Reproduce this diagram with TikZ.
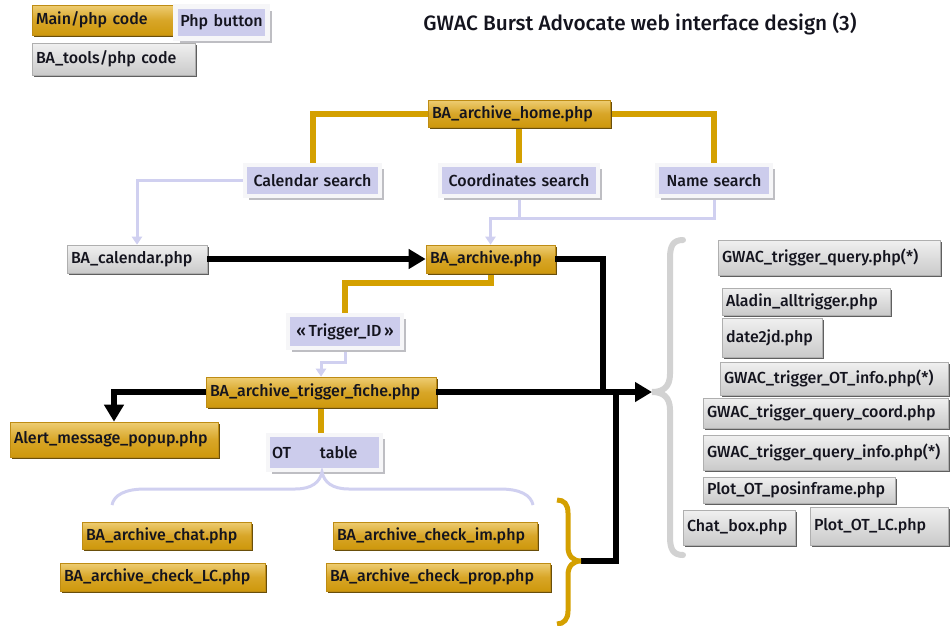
\documentclass[tikz,border=0pt]{standalone}
\usepackage{fontspec}
\setmainfont{Fira Sans}[UprightFont={* Medium}]
\usetikzlibrary{arrows.meta,shadows}
\definecolor{txt}{RGB}{20,20,30}
\definecolor{goldline}{RGB}{212,160,0}
\definecolor{goldtop}{RGB}{238,205,115}
\definecolor{goldmid}{RGB}{216,166,40}
\definecolor{goldbot}{RGB}{206,152,12}
\definecolor{goldedge}{RGB}{190,140,20}
\definecolor{goldshadow}{RGB}{105,78,10}
\definecolor{greytop}{RGB}{240,240,240}
\definecolor{greybot}{RGB}{202,202,202}
\definecolor{greyedge}{RGB}{175,175,175}
\definecolor{greyshadow}{RGB}{95,95,95}
\definecolor{lav}{RGB}{204,204,236}
\definecolor{lavline}{RGB}{208,208,240}
\definecolor{frame}{RGB}{246,246,248}
\definecolor{frameshadow}{RGB}{190,190,195}
\definecolor{bracegrey}{RGB}{210,210,210}
\pgfdeclarelayer{bg}
\pgfsetlayers{bg,main}
\tikzset{
  wh/.code 2 args={\pgfmathsetmacro\boxtw{#1-8}\edef\boxtmp{\noexpand\tikzset{text width=\boxtw pt, minimum width=#1pt, minimum height=#2pt}}\boxtmp},
  basebox/.style={inner xsep=4pt, inner ysep=0pt, text=txt, font=\fontsize{16}{18}\selectfont, align=left},
  goldbox/.style={basebox, top color=goldtop, bottom color=goldbot, middle color=goldmid, draw=goldedge, line width=0.6pt,
    drop shadow={shadow xshift=2pt, shadow yshift=-2pt, fill=goldshadow, opacity=1}},
  greybox/.style={basebox, top color=greytop, bottom color=greybot, draw=greyedge, line width=0.6pt,
    drop shadow={shadow xshift=2pt, shadow yshift=-2pt, fill=greyshadow, opacity=1}},
  btn/.style={basebox, fill=lav, draw=frame, line width=4.5pt,
    drop shadow={shadow xshift=4pt, shadow yshift=-4pt, fill=frameshadow, opacity=1}},
  goldconn/.style={draw=goldline, line width=6pt},
  lavconn/.style={draw=lavline, line width=3pt},
  lavarrow/.style={-{Triangle[length=8pt,width=10pt]}},
  blackconn/.style={draw=black, line width=6pt},
  bigarrow/.style={-{Triangle[length=17pt,width=19pt]}},
}
\begin{document}
\begin{tikzpicture}[x=1pt,y=-1pt]
\useasboundingbox (0,0) rectangle (950,625);

% legend
\node[goldbox, wh={141}{30}] (legmain) at (102.5,20) {Main/php~code};
\node[btn, wh={92}{32}, align=center] (legbtn) at (221.5,22.5) {Php~button};
\node[greybox, wh={163}{32}] (legtools) at (113.5,59) {BA\_tools/php~code};

% title
\node[text=txt, font=\fontsize{20.8}{24}\selectfont, inner sep=0pt] (title) at (640,24) {GWAC Burst Advocate web interface design (3)};

% top part
\node[goldbox, wh={182}{27}] (home) at (519,113.5) {BA\_archive\_home.php};
\node[btn, wh={135}{31}, align=center] (cal) at (312.5,180.5) {Calendar~search};
\node[btn, wh={158}{31}, align=center] (coord) at (519,180.5) {Coordinates~search};
\node[btn, wh={114}{31}, align=center] (name) at (714,180.5) {Name~search};

\node[greybox, wh={140}{28}] (calphp) at (137,259) {BA\_calendar.php};
\node[goldbox, wh={129}{28}] (archive) at (490.5,259) {BA\_archive.php};
\node[btn, wh={114}{33}, align=center] (trig) at (345,331.5) {«\,Trigger\_ID\,»};
\node[goldbox, wh={230}{30}] (fiche) at (321,392) {BA\_archive\_trigger\_fiche.php};
\node[goldbox, wh={208}{35}, inner xsep=2pt] (alert) at (114,439.5) {Alert\_message\_popup.php};
\node[btn, wh={113}{35}] (ot) at (324.5,452.5) {OT\hspace{29pt}table};

\node[goldbox, wh={169}{27}] (chat) at (166.5,535.5) {BA\_archive\_chat.php};
\node[goldbox, wh={205}{28}] (checklc) at (162.5,577) {BA\_archive\_check\_LC.php};
\node[goldbox, wh={204}{27}] (checkim) at (435,535.5) {BA\_archive\_check\_im.php};
\node[goldbox, wh={224}{28}] (checkprop) at (438,577) {BA\_archive\_check\_prop.php};

% right column (BA tools)
\node[greybox, wh={222}{35}] (gq) at (829,257.5) {GWAC\_trigger\_query.php(*)};
\node[greybox, wh={168}{27}] (aladin) at (806,301.5) {Aladin\_alltrigger.php};
\node[greybox, wh={100}{39}] (date) at (772,337.5) {date2jd.php};
\node[greybox, wh={228}{33}] (otinfo) at (834,378.5) {GWAC\_trigger\_OT\_info.php(*)};
\node[greybox, wh={245}{30}] (qcoord) at (825.5,413) {GWAC\_trigger\_query\_coord.php};
\node[greybox, wh={245}{35}] (qinfo) at (825.5,452.5) {GWAC\_trigger\_query\_info.php(*)};
\node[greybox, wh={192}{26}] (posin) at (799,490) {Plot\_OT\_posinframe.php};
\node[greybox, wh={112}{35}] (chatbox) at (739,527.5) {Chat\_box.php};
\node[greybox, wh={138}{38}] (plotlc) at (879,526) {Plot\_OT\_LC.php};

% brace tips and junctions
\coordinate (gtip) at (652,392);
\coordinate (otip) at (581,561);
\coordinate (ltip) at (322,472);
\coordinate (jA) at (603,392);
\coordinate (jB) at (616,392);

\begin{pgfonlayer}{bg}
% gold connectors
\draw[goldconn] (home.west) -| (cal.north);
\draw[goldconn] (home.south) -- (coord.north);
\draw[goldconn] (home.east) -| (name.north);
\draw[goldconn] (archive.south) -- (archive.south |- 0,283) -| (trig.north);
\draw[goldconn] (fiche.south) -- (fiche.south |- ot.north);
% lavender connectors
\draw[lavconn, lavarrow] (cal.west) -| (calphp.north);
\draw[lavconn] (coord.south) -- (coord.south |- 0,218);
\draw[lavconn, lavarrow] (name.south) |- (archive.north |- 0,218) -- (archive.north);
\draw[lavconn, lavarrow] (trig.south) -- (trig.south |- 0,362) -| (fiche.north);
\end{pgfonlayer}

% black connectors
\draw[blackconn, bigarrow] (calphp.east) -- (archive.west);
\draw[blackconn] (archive.east) -| (jA);
\draw[blackconn, bigarrow] (fiche.east) -- (gtip);
\draw[blackconn] (otip) -| (jB);
\draw[blackconn, bigarrow] (fiche.west) -| (alert.north);

% braces
\draw[bracegrey, line width=6pt, line cap=round]
  (683,240) .. controls (673,240) and (670,246) .. (670,258) -- (670,374)
  .. controls (670,387) and (663,392) .. (gtip)
  .. controls (663,392) and (670,397) .. (670,410) -- (670,537)
  .. controls (670,549) and (673,555) .. (683,555);
\draw[goldline, line width=5pt]
  (557,500) .. controls (564,500) and (568,504) .. (568,513) -- (568,547)
  .. controls (568,556) and (573,561) .. (otip)
  .. controls (573,561) and (568,566) .. (568,575) -- (568,611)
  .. controls (568,619) and (564,624) .. (557,624);
\draw[lavline, line width=3pt]
  (112,505) .. controls (114,495) and (125,489) .. (145,489) -- (295,489)
  .. controls (312,489) and (320,482) .. (ltip)
  .. controls (324,482) and (332,489) .. (349,489) -- (500,489)
  .. controls (520,489) and (531,495) .. (533,505);
\end{tikzpicture}
\end{document}
